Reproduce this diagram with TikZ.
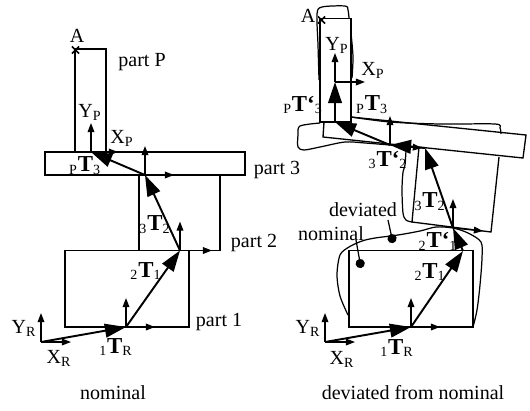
\documentclass[tikz,border=0pt]{standalone}
\usepackage{fontspec}
\setmainfont{Liberation Serif}
\usetikzlibrary{arrows.meta,shapes.misc}
\newcommand{\lab}[3]{\textsubscript{#1}{\fontsize{13}{13}\selectfont\textbf{#2}}\textsubscript{#3}}
\tikzset{
  partline/.style={line width=0.75pt},
  wobble/.style={line width=0.7pt},
  axisarrow/.style={line width=0.75pt,-{Triangle[length=5.2pt,width=3.8pt]}},
  bigarrow/.style={line width=1.1pt,-{Triangle[length=12pt,width=7.8pt]}},
  leader/.style={line width=0.7pt,{Circle[length=5.2pt]}-},
  lbl/.style={inner sep=0pt,font=\fontsize{11.4}{12}\selectfont},
  markA/.style={cross out,draw,line width=0.9pt,inner sep=0pt,minimum size=3.2pt}
}
\begin{document}
\begin{tikzpicture}[x=0.02cm,y=-0.02cm]
  \useasboundingbox (0,0) rectangle (530,410);
  % frames: name/x/y/end of X axis, Y axis is always 29 long
  \foreach \n/\fx/\fy/\ex/\ey in {
      r/41/342/71/342, a/126/327/155/327, b/180/250.5/212/250.5,
      c/145/175/174/175, p/91/152/118/152,
      rr/325/342/355/342, aa/411/327/440/327, bb/453/228/483/231,
      cc/390/145/422/148, pp/335/82/365/82} {
    \coordinate (\n) at (\fx,\fy);
    \coordinate (\n x) at (\ex,\ey);
    \coordinate (\n y) at (\fx,\fy-29);
    \draw[axisarrow] (\n) -- (\n x);
    \draw[axisarrow] (\n) -- (\n y);
  }
  % nominal parts
  \draw[partline] (65,250.5) rectangle (189,327);
  \draw[partline] (139,250.5) -- (139,175) (220,175) -- (220,250.5) -- (180,250.5);
  \draw[partline] (45,152) rectangle (245,175);
  \draw[partline] (75,152) -- (75,49) -- (106,49) -- (106,152);
  \node[markA] (ma) at (75.5,50) {};
  % nominal transforms
  \draw[bigarrow] (r) -- (a);
  \draw[bigarrow] (a) -- (b);
  \draw[bigarrow] (b) -- (c);
  \draw[bigarrow] (c) -- (p);
  \node[lbl] (tp) at (77,36) {A};
  \node[lbl] (np) at (142,62) {part P};
  \node[lbl] (yp) at (90,112) {Y\textsubscript{P}};
  \node[lbl] (xp) at (122,138) {X\textsubscript{P}};
  \node[lbl] (t3) at (85,166) {\lab{P}{T}{3}};
  \node[lbl] (n3) at (277,170) {part 3};
  \node[lbl] (t2) at (155,225) {\lab{3}{T}{2}};
  \node[lbl] (n2) at (254,243) {part 2};
  \node[lbl] (t1) at (146,271) {\lab{2}{T}{1}};
  \node[lbl] (n1) at (219,322) {part 1};
  \node[lbl] (tr) at (116,347) {\lab{1}{T}{R}};
  \node[lbl] (yr) at (24,328) {Y\textsubscript{R}};
  \node[lbl] (xr) at (59,358) {X\textsubscript{R}};
  \node[lbl] (cap1) at (113,393) {nominal};
  % deviated parts
  \draw[partline] (349,250.5) rectangle (473,327);
  \draw[partline] (419,147) -- (412,222) -- (491,232) -- (499,157);
  \draw[partline] (351,117) -- (526,135) -- (523,158) -- (323,137) -- (324,122);
  \draw[partline] (320,122) rectangle (351,18.5);
  \node[markA] (mb) at (321.5,20) {};
  % hand drawn outlines
  \draw[wobble] plot[smooth] coordinates {(348,315) (340,296) (337,275) (340,255) (349,247)
    (362,241) (375,238) (398,235) (420,231) (436,227) (453,228) (468,233) (481,242)
    (482,258) (480,285) (477,310) (473,327)};
  \draw[wobble] plot[smooth] coordinates {(406,150) (405,165) (403,172) (402,190) (403,213)
    (406,220) (412,222)};
  \draw[wobble] plot[smooth] coordinates {(320,123) (300,126) (298,135) (298,147) (304,150)
    (320,147) (345,142) (365,143) (390,145)};
  \draw[wobble] plot[smooth] coordinates {(351,117) (390,122) (440,124) (495,124) (500,128) (501,134)};
  \draw[wobble] plot[smooth] coordinates {(319,80) (318,45) (317,14) (322,7) (345,6) (348,10) (349,18)};
  \draw[wobble] plot[smooth] coordinates {(351,33) (353,57) (352,78)};
  % deviated transforms
  \coordinate (b0) at (463,251);
  \coordinate (c0) at (425,148);
  \coordinate (p0) at (335,122);
  \draw[bigarrow] (rr) -- (aa);
  \draw[bigarrow] (aa) -- (b0);
  \draw[bigarrow] (b0) -- (bb);
  \draw[bigarrow] (bb) -- (c0);
  \draw[bigarrow] (c0) -- (cc);
  \draw[bigarrow] (cc) -- (p0);
  \draw[bigarrow] (p0) -- (pp);
  \coordinate (d1) at (361,268);
  \coordinate (d2) at (356,240);
  \coordinate (d3) at (393,243);
  \coordinate (d4) at (388,220);
  \draw[leader] (d1) -- (d2);
  \draw[leader] (d3) -- (d4);
  \node[lbl] (tp2) at (308,16) {A};
  \node[lbl] (yp2) at (337,45) {Y\textsubscript{P}};
  \node[lbl] (xp2) at (373,70) {X\textsubscript{P}};
  \node[lbl] (td3) at (303,105) {\lab{P}{T\char"2018}{3}};
  \node[lbl] (t32) at (372,105) {\lab{P}{T}{3}};
  \node[lbl] (td2) at (388,160) {\lab{3}{T\char"2018}{2}};
  \node[lbl] (t22) at (430,202) {\lab{3}{T}{2}};
  \node[lbl] (nd) at (363,210) {deviated};
  \node[lbl] (nn) at (331,234) {nominal};
  \node[lbl] (td1) at (438,241) {\lab{2}{T\char"2018}{1}};
  \node[lbl] (t12) at (430,272) {\lab{2}{T}{1}};
  \node[lbl] (tr2) at (397,348) {\lab{1}{T}{R}};
  \node[lbl] (yr2) at (308,328) {Y\textsubscript{R}};
  \node[lbl] (xr2) at (342,359) {X\textsubscript{R}};
  \node[lbl] (cap2) at (413,393) {deviated from nominal};
\end{tikzpicture}
\end{document}
